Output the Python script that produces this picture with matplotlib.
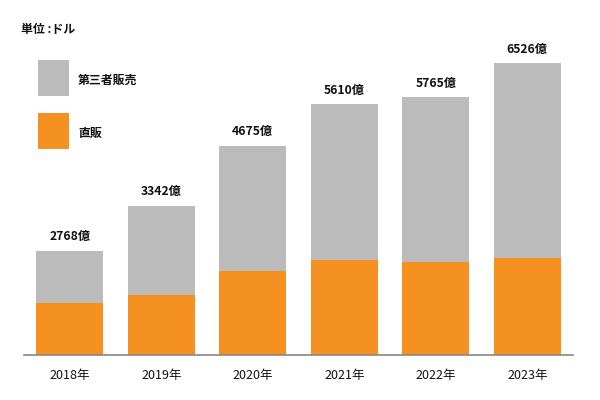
import matplotlib
matplotlib.use("Agg")
import matplotlib.pyplot as plt
from matplotlib.patches import Rectangle

plt.rcParams['font.family'] = ['Noto Sans CJK JP', 'DejaVu Sans']

years = ["2018年", "2019年", "2020年", "2021年", "2022年", "2023年"]
direct = [1170, 1342, 1886, 2125, 2087, 2170]
third_party = [1163, 2000, 2789, 3485, 3678, 4356]
total_labels = ["2768億", "3342億", "4675億", "5610億", "5765億", "6526億"]

GRAY = "#BBBBBB"
ORANGE = "#F59121"

fig = plt.figure(figsize=(6, 4), dpi=100)
ax = fig.add_axes([24/600, 45/400, 549/600, 350/400])

x = list(range(len(years)))
ax.bar(x, direct, width=0.727, color=ORANGE, linewidth=0)
ax.bar(x, third_party, width=0.727, bottom=direct, color=GRAY, linewidth=0)

for xi, d, t, lab in zip(x, direct, third_party, total_labels):
    ax.annotate(lab, (xi, d + t), xytext=(0, 5.5), textcoords="offset points",
                ha="center", va="bottom", fontsize=8.8, fontweight="bold", color="#111111")

ax.set_xlim(-0.5, 5.5)
ax.set_ylim(0, 7830)
ax.set_xticks(x)
ax.set_xticklabels(years, fontsize=9, color="#111111")
ax.tick_params(axis="x", length=0, pad=10)
ax.set_yticks([])
for s in ["top", "right", "left"]:
    ax.spines[s].set_visible(False)
ax.spines["bottom"].set_color("#888888")
ax.spines["bottom"].set_linewidth(1.2)

# legend
def fx(px):
    return px / 600
def fy(py):
    return 1 - py / 400

fig.add_artist(Rectangle((fx(38), fy(96)), 31/600, 36/400, transform=fig.transFigure,
                         color=GRAY, linewidth=0))
fig.add_artist(Rectangle((fx(38), fy(149)), 31/600, 36/400, transform=fig.transFigure,
                         color=ORANGE, linewidth=0))
fig.text(fx(78), fy(80), "第三者販売", ha="left", va="center", fontsize=8.6, fontweight="bold", color="#111111")
fig.text(fx(78), fy(133), "直販", ha="left", va="center", fontsize=8.6, fontweight="bold", color="#111111")
fig.text(fx(21), fy(29), "単位 :ドル", ha="left", va="center", fontsize=8.6, fontweight="bold", color="#111111")

fig.savefig("out.png", dpi=100)
